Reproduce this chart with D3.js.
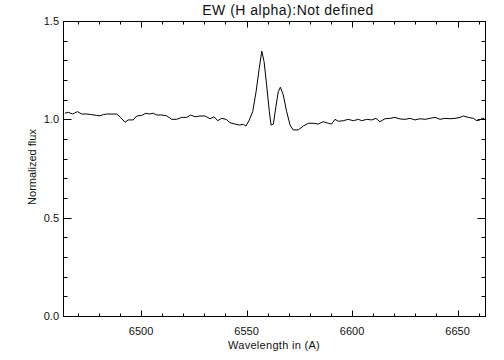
<!DOCTYPE html>
<html lang="en">
  <head>
    <meta charset="UTF-8" />
    <title>EW (H alpha) spectrum</title>
    <style>
      body {
        margin: 0;
        background: #fff;
      }
      text {
        font-family: "Liberation Sans", Helvetica, Arial, sans-serif;
        fill: #111;
      }
      .frame {
        fill: none;
        stroke: #000;
        stroke-width: 1;
      }
      .tick {
        stroke: #000;
        stroke-width: 1;
      }
      .spectrum {
        fill: none;
        stroke: #000;
        stroke-width: 1;
      }
    </style>
  </head>
  <body>
    <div id="chart"></div>
    <script src="https://cdn.jsdelivr.net/npm/d3@7"></script>
    <script>
      /* global d3 */

      // wavelength (A) and normalized flux
      let wavelength = [
        6463.9, 6465.5, 6467.6, 6469.8, 6471.9, 6474.2, 6476.6, 6479.0, 6480.5,
        6482.1, 6483.7, 6486.1, 6488.4, 6490.0, 6492.4, 6493.9, 6496.3, 6497.9,
        6500.3, 6502.3, 6503.9, 6505.8, 6507.4, 6509.8, 6512.1, 6514.5, 6516.9,
        6519.3, 6521.6, 6523.5, 6525.6, 6527.9, 6530.3, 6532.7, 6534.6, 6536.3,
        6538.2, 6540.3, 6542.1, 6544.5, 6546.6, 6548.5, 6549.7, 6551.3, 6552.9,
        6554.5, 6556.0, 6557.2, 6558.3, 6559.5, 6560.8, 6561.6, 6562.7, 6563.9,
        6565.0, 6566.0, 6567.4, 6569.0, 6570.6, 6572.1, 6574.5, 6576.9, 6579.3,
        6581.6, 6584.0, 6586.4, 6588.7, 6590.3, 6591.9, 6593.5, 6595.8, 6598.2,
        6600.6, 6603.0, 6604.6, 6606.9, 6609.3, 6611.3, 6613.2, 6615.6, 6618.0,
        6620.3, 6622.7, 6625.1, 6627.5, 6629.8, 6632.2, 6634.6, 6636.9, 6639.3,
        6641.7, 6644.0, 6646.4, 6648.8, 6651.2, 6652.7, 6655.1, 6657.5, 6659.1,
        6660.6, 6661.7, 6662.7
      ];
      let flux = [
        1.031, 1.036, 1.027, 1.039, 1.027, 1.027, 1.024, 1.02, 1.018,
        1.024, 1.027, 1.027, 1.027, 1.013, 0.985, 0.997, 0.997, 1.017,
        1.02, 1.031, 1.027, 1.031, 1.022, 1.022, 1.018, 1.0, 1.0,
        1.01, 1.01, 1.022, 1.013, 1.017, 1.017, 1.003, 1.013, 0.993,
        1.005, 1.0, 0.983, 0.976, 0.971, 0.975, 0.966, 0.997, 1.039,
        1.14, 1.259, 1.347, 1.293, 1.175, 1.039, 0.971, 0.976, 1.064,
        1.14, 1.163, 1.124, 1.039, 0.971, 0.946, 0.946, 0.966, 0.98,
        0.98, 0.976, 0.988, 0.98, 0.976, 1.0, 0.99, 0.993, 1.0,
        0.993, 1.0, 0.993, 1.0, 0.997, 1.005, 0.988, 1.003, 1.005,
        1.01, 1.002, 1.0, 1.005, 0.997, 1.003, 1.0, 1.005, 1.01,
        1.0, 1.005, 1.003, 1.005, 1.01, 1.017, 1.01, 1.005, 0.993,
        0.997, 1.005, 1.005
      ];

      let xMajor = [6500, 6550, 6600, 6650];
      let xMinor = d3.range(6470, 6661, 10);
      let yMajor = [0.0, 0.5, 1.0, 1.5];
      let yMinor = d3.range(0, 1.51, 0.1);

      let width = 504,
        height = 360;
      let m = { left: 63, right: 485, top: 21, bottom: 316 };

      let x = d3.scaleLinear().domain([6463, 6663]).range([m.left, m.right]);
      let y = d3.scaleLinear().domain([0, 1.5]).range([m.bottom, m.top]);

      let svg = d3
        .select("#chart")
        .append("svg")
        .attr("width", width)
        .attr("height", height);

      // IDL-style ticks on all four sides, pointing inward
      let xLen = 6,
        yLen = 8;
      function xTicks(vals, len) {
        [
          [m.bottom, -len],
          [m.top, len]
        ].forEach(function (s) {
          svg.selectAll(null).data(vals).enter().append("line")
            .attr("class", "tick")
            .attr("x1", (d) => Math.round(x(d)) + 0.5)
            .attr("x2", (d) => Math.round(x(d)) + 0.5)
            .attr("y1", s[0] + 0.5)
            .attr("y2", s[0] + 0.5 + s[1]);
        });
      }
      function yTicks(vals, len) {
        [
          [m.left, len],
          [m.right, -len]
        ].forEach(function (s) {
          svg.selectAll(null).data(vals).enter().append("line")
            .attr("class", "tick")
            .attr("y1", (d) => Math.round(y(d)) + 0.5)
            .attr("y2", (d) => Math.round(y(d)) + 0.5)
            .attr("x1", s[0] + 0.5)
            .attr("x2", s[0] + 0.5 + s[1]);
        });
      }
      xTicks(xMinor, xLen / 2);
      xTicks(xMajor, xLen);
      yTicks(yMinor, yLen / 2);
      yTicks(yMajor, yLen);

      svg.append("rect")
        .attr("class", "frame")
        .attr("x", m.left + 0.5)
        .attr("y", m.top + 0.5)
        .attr("width", m.right - m.left)
        .attr("height", m.bottom - m.top);

      // tick labels
      svg.selectAll(null).data(xMajor).enter().append("text")
        .attr("x", (d) => x(d))
        .attr("y", m.bottom + 19)
        .attr("text-anchor", "middle")
        .style("font-size", "11px")
        .text((d) => d);
      svg.selectAll(null).data(yMajor).enter().append("text")
        .attr("x", m.left - 4)
        .attr("y", (d) => y(d) + 4)
        .attr("text-anchor", "end")
        .style("font-size", "11px")
        .text((d) => d.toFixed(1));

      // titles
      svg.append("text")
        .attr("x", 288)
        .attr("y", 15)
        .attr("text-anchor", "middle")
        .style("font-size", "14px")
        .style("letter-spacing", "0.5px")
        .text("EW (H alpha):Not defined");
      svg.append("text")
        .attr("x", (m.left + m.right) / 2)
        .attr("y", m.bottom + 33)
        .attr("text-anchor", "middle")
        .style("font-size", "11px")
        .style("letter-spacing", "0.3px")
        .text("Wavelength in (A)");
      svg.append("text")
        .attr("transform", "translate(36," + 167 + ") rotate(-90)")
        .attr("text-anchor", "middle")
        .style("font-size", "11px")
        .text("Normalized flux");

      // spectrum
      let line = d3
        .line()
        .x((d, i) => x(wavelength[i]))
        .y((d) => y(d));

      svg.append("path")
        .datum(flux)
        .attr("class", "spectrum")
        .attr("d", line);
    </script>
  </body>
</html>
